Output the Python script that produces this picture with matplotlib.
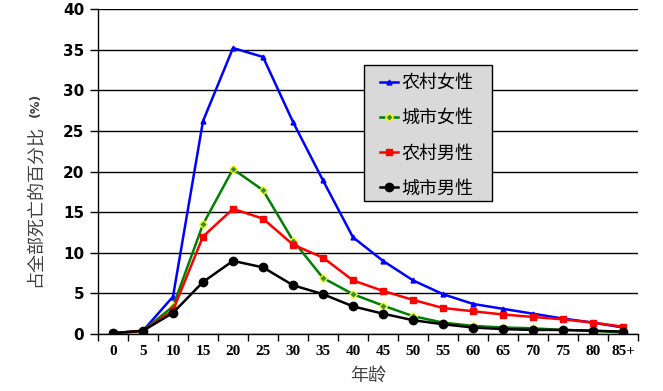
import matplotlib
matplotlib.use("Agg")
import matplotlib.pyplot as plt
from matplotlib.patches import Rectangle
import numpy as np

plt.rcParams["font.family"] = ["Noto Sans CJK SC", "DejaVu Sans"]

# --- data ---
age_groups = ["0", "5", "10", "15", "20", "25", "30", "35", "40", "45",
              "50", "55", "60", "65", "70", "75", "80", "85+"]
rural_female = [0.1, 0.4, 4.6, 26.2, 35.2, 34.1, 26.1, 18.9, 11.9, 9.0,
                6.6, 4.9, 3.7, 3.1, 2.5, 1.9, 1.4, 0.8]
urban_female = [0.0, 0.4, 3.4, 13.5, 20.3, 17.7, 11.5, 6.9, 4.9, 3.5,
                2.2, 1.4, 1.0, 0.8, 0.7, 0.5, 0.4, 0.2]
rural_male = [0.1, 0.4, 2.9, 12.0, 15.4, 14.2, 11.0, 9.4, 6.6, 5.3,
              4.2, 3.2, 2.8, 2.4, 2.1, 1.8, 1.4, 0.9]
urban_male = [0.1, 0.4, 2.6, 6.4, 9.0, 8.2, 6.0, 4.9, 3.4, 2.5,
              1.7, 1.2, 0.8, 0.6, 0.5, 0.5, 0.4, 0.3]

series = [
    ("农村女性", rural_female, dict(color="#0000ff", marker="^", markersize=3.5,
                                 markerfacecolor="#0000ff", markeredgecolor="#0000ff")),
    ("城市女性", urban_female, dict(color="#008000", marker="D", markersize=4,
                                 markerfacecolor="#2e8b57", markeredgecolor="#ffff00")),
    ("农村男性", rural_male, dict(color="#ff0000", marker="s", markersize=5,
                               markerfacecolor="#ff0000", markeredgecolor="#ff0000")),
    ("城市男性", urban_male, dict(color="#000000", marker="o", markersize=6,
                               markerfacecolor="#000000", markeredgecolor="#000000")),
]

fig = plt.figure(figsize=(6.63, 3.91), dpi=100)
ax = fig.add_axes([98 / 663, 57 / 391, 540 / 663, 325 / 391])

x = np.arange(len(age_groups))
for label, values, style in series:
    ax.plot(x, values, linewidth=1.8, label=label, zorder=3, **style)

# axes / grid
ax.set_xlim(-0.5, len(age_groups) - 0.5)
ax.set_ylim(0, 40)
ax.set_yticks(np.arange(0, 41, 5))
ax.yaxis.grid(True, color="black", linewidth=1)
ax.set_axisbelow(True)
for side in ("top", "right"):
    ax.spines[side].set_visible(False)
ax.spines["left"].set_linewidth(1)
ax.spines["bottom"].set_linewidth(1)

ax.set_xticks(x)
ax.set_xticklabels(age_groups, family="Liberation Serif", fontweight="bold", fontsize=11)
ax.set_xticks(np.arange(-0.5, len(age_groups), 1), minor=True)
ax.tick_params(axis="x", which="major", length=0, pad=8)
ax.tick_params(axis="x", which="minor", length=5, direction="out", width=1)
ax.tick_params(axis="y", length=6, width=1, direction="out", pad=4)
for t in ax.get_yticklabels():
    t.set_family("DejaVu Sans")
    t.set_fontweight("bold")
    t.set_fontsize(11)

ax.set_xlabel("年龄", fontsize=13, color="#404040", labelpad=6)

# y axis title: CJK part plus a bold "(%)" above it
fig.text(0.053, 0.473, "占全部死亡的百分比", rotation=90, fontsize=13,
         color="#404040", ha="center", va="center")
fig.text(0.053, 0.731, "(%)", rotation=90, fontsize=9, fontweight="bold",
         family="DejaVu Sans", color="#404040", ha="center", va="center")

# legend: fixed grey box, frameless legend placed inside it
box = Rectangle((0.4926, 0.409), 0.237, 0.4187, transform=ax.transAxes,
                facecolor="#d9d9d9", edgecolor="black", linewidth=1, zorder=4)
ax.add_patch(box)
leg = ax.legend(loc="upper left", bbox_to_anchor=(0.523, 0.800),
                fontsize=13, frameon=False,
                handlelength=1.0, handletextpad=0.17, labelspacing=0.95,
                borderpad=0, borderaxespad=0)
leg.set_zorder(5)

fig.savefig("out.png", dpi=100)
